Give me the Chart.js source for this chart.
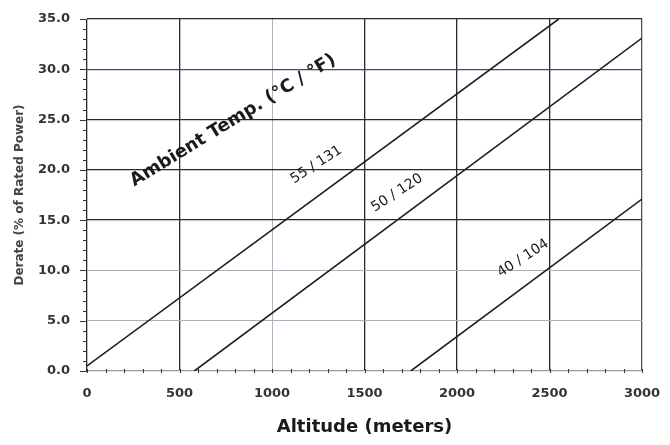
<!DOCTYPE html>
<html>
<head>
<meta charset="utf-8">
<script src="https://cdn.jsdelivr.net/npm/chart.js@4"></script>
<style>
  html, body { margin: 0; padding: 0; background: #fff; }
  #wrap { width: 670px; height: 445px; }
</style>
</head>
<body>
<div id="wrap"><canvas id="grafico" width="670" height="445"></canvas></div>
<script>
// datos
const altitud55 = [0, 2550];
const derate55 = [0.5, 35];
const altitud50 = [580, 3000];
const derate50 = [0, 33.1];
const altitud40 = [1750, 3000];
const derate40 = [0, 17.1];
const etiquetasLineas = ['55 / 131', '50 / 120', '40 / 104'];
const tituloTemp = 'Ambient Temp. (°C / °F)';
const ticksX = [0, 500, 1000, 1500, 2000, 2500, 3000];
const ticksY = [0, 5, 10, 15, 20, 25, 30, 35];

const fuente = '"DejaVu Sans", Verdana, sans-serif';

function puntos(xs, ys) {
    return xs.map((x, i) => ({ x: x, y: ys[i] }));
}

function colorY(v) {
    if (v === 0) return '#9a9a9a';
    if (v === 5 || v === 10) return '#a9aec8';
    if (v === 30) return '#3c4a6c';
    return '#2a2a2a';
}
function colorX(v) {
    if (v === 1000) return '#b0b4c6';
    if (v === 3000) return '#555';
    return '#2a2a2a';
}

// marcas menores y textos sobre el grafico
const extras = {
    id: 'extras',
    afterDatasetsDraw(chart) {
        const ctx = chart.ctx;
        const xs = chart.scales.x, ys = chart.scales.y;
        const a = chart.chartArea;
        ctx.save();
        ctx.strokeStyle = '#333';
        ctx.lineWidth = 1;
        ctx.beginPath();
        for (let v = 0; v <= 35; v++) {
            const py = Math.round(ys.getPixelForValue(v)) + 0.5;
            const len = v % 5 === 0 ? 7 : 4;
            ctx.moveTo(a.left - len, py);
            ctx.lineTo(a.left, py);
        }
        for (let v = 0; v <= 3000; v += 100) {
            const px = Math.round(xs.getPixelForValue(v)) + 0.5;
            ctx.moveTo(px, a.bottom - 2);
            ctx.lineTo(px, a.bottom + 2);
        }
        ctx.stroke();

        const texto = (t, x, y, ang, f) => {
            ctx.save();
            ctx.translate(xs.getPixelForValue(x), ys.getPixelForValue(y));
            ctx.rotate(ang * Math.PI / 180);
            ctx.font = f;
            ctx.fillStyle = '#1a1a1a';
            ctx.textAlign = 'center';
            ctx.textBaseline = 'middle';
            ctx.fillText(t, 0, 0);
            ctx.restore();
        };
        texto(tituloTemp, 790, 24.9, -31.5, 'bold 18px ' + fuente);
        texto(etiquetasLineas[0], 1240, 20.5, -33, '14px ' + fuente);
        texto(etiquetasLineas[1], 1676, 17.7, -33, '14px ' + fuente);
        texto(etiquetasLineas[2], 2357, 11.2, -33, '14px ' + fuente);
        ctx.restore();
    }
};

const serie = (xs, ys) => ({
    data: puntos(xs, ys),
    showLine: true,
    borderColor: '#1e1e1e',
    borderWidth: 1.6,
    pointRadius: 0,
    fill: false
});

new Chart(document.getElementById('grafico').getContext('2d'), {
    type: 'scatter',
    data: {
        datasets: [
            serie(altitud55, derate55),
            serie(altitud50, derate50),
            serie(altitud40, derate40)
        ]
    },
    options: {
        responsive: false,
        animation: false,
        layout: { padding: { left: 0, right: 28, top: 19, bottom: 0 } },
        plugins: { legend: { display: false }, tooltip: { enabled: false } },
        scales: {
            x: {
                type: 'linear',
                min: 0,
                max: 3000,
                afterBuildTicks: s => { s.ticks = ticksX.map(v => ({ value: v })); },
                afterFit: s => { s.height = 74; s.paddingLeft = 0; s.paddingRight = 0; },
                border: { display: false },
                grid: {
                    color: c => colorX(c.tick.value),
                    lineWidth: c => c.tick.value === 1000 ? 1 : 1.3,
                    drawTicks: false
                },
                ticks: {
                    padding: 15,
                    color: '#333',
                    font: { family: fuente, size: 13, weight: 'bold' },
                    callback: v => String(v)
                },
                title: {
                    display: true,
                    text: 'Altitude (meters)',
                    color: '#1a1a1a',
                    font: { family: fuente, size: 18, weight: 'bold' },
                    padding: { top: 0, bottom: 7 }
                }
            },
            y: {
                type: 'linear',
                min: 0,
                max: 35,
                afterBuildTicks: s => { s.ticks = ticksY.map(v => ({ value: v })); },
                afterFit: s => { s.width = 87; s.paddingTop = 0; s.paddingBottom = 0; },
                border: { display: false },
                grid: {
                    color: c => colorY(c.tick.value),
                    lineWidth: c => (c.tick.value === 5 || c.tick.value === 10) ? 1 : 1.3,
                    drawTicks: false
                },
                ticks: {
                    padding: 17,
                    color: '#333',
                    font: { family: fuente, size: 13, weight: 'bold' },
                    callback: v => Number(v).toFixed(1)
                },
                title: {
                    display: true,
                    text: 'Derate (% of Rated Power)',
                    color: '#444',
                    font: { family: fuente, size: 12, weight: 'bold' },
                    padding: { top: 13, bottom: 0 }
                }
            }
        }
    },
    plugins: [extras]
});
</script>
</body>
</html>
